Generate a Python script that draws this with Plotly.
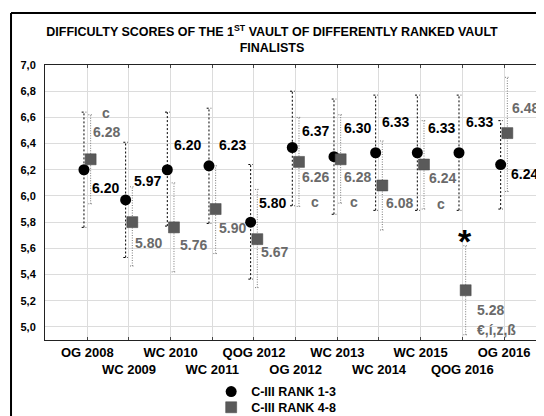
import plotly.graph_objects as go

# ---------------- data ----------------
events = ["OG 2008", "WC 2009", "WC 2010", "WC 2011", "QOG 2012", "OG 2012",
          "WC 2013", "WC 2014", "WC 2015", "QOG 2016", "OG 2016"]
rank13_mean = [6.20, 5.97, 6.20, 6.23, 5.80, 6.37, 6.30, 6.33, 6.33, 6.33, 6.24]
rank13_lo = [5.76, 5.53, 5.77, 5.79, 5.365, 5.925, 5.86, 5.89, 5.89, 5.89, 5.90]
rank13_hi = [6.64, 6.41, 6.64, 6.67, 6.24, 6.80, 6.74, 6.77, 6.77, 6.77, 6.575]
rank48_mean = [6.28, 5.80, 5.76, 5.90, 5.67, 6.26, 6.28, 6.08, 6.24, 5.28, 6.48]
rank48_lo = [5.94, 5.465, 5.42, 5.56, 5.30, 5.92, 5.945, 5.74, 5.90, 4.94, 6.034]
rank48_hi = [6.62, 6.07, 6.10, 6.23, 6.05, 6.60, 6.62, 6.42, 6.575, 5.62, 6.906]
rank48_notes = ["c", "", "", "", "", "c", "c", "", "c", "€,í,z,ß", ""]
star_event = "QOG 2016"
y_ticks = [5.0, 5.2, 5.4, 5.6, 5.8, 6.0, 6.2, 6.4, 6.6, 6.8, 7.0]
y_tick_labels = ["5,0", "5,2", "5,4", "5,6", "5,8", "6,0", "6,2", "6,4", "6,6", "6,8", "7,0"]
series_names = ["C-III RANK 1-3", "C-III RANK 4-8"]
title_text = "DIFFICULTY SCORES OF THE 1<sup>ST</sup> VAULT OF DIFFERENTLY RANKED VAULT<br>FINALISTS"

# ---------------- style ----------------
FONT = "Liberation Sans, Arial, sans-serif"
GRAY_TXT = "#6a6a6a"
SQ_FILL = "#5a5a5a"
OFF = 0.08      # horizontal offset of the two series around each category
CAP = 0.055     # half width of error-bar caps
W, H = 536, 408  # page body has an 8px margin

# label offsets (pixels; dx right, dy down)
c_dx = [2.7, 2.7, 1, 4.4, 3.3, 4.3, 4.4, 1, 5.3, 1.7, 5.3]
c_dy = [17.8, -19.3, -24.6, -20.6, -19.6, -16.6, -28.5, -30.5, -24.5, -30.5, 9.7]
s_dx = [3.4, 4, 7, 4.4, 5.3, 4.3, 4.4, 5, 6, 12.7, 6]
s_dy = [-27.1, 21, 18, 19.2, 13.1, 14.7, 17.3, 17.2, 13.7, 20.2, -25.5]
n_dx = [12.7, 0, 0, 0, 0, 13.3, 10.7, 0, 14.6, 12.7, 0]
n_dy = [-46.7, 0, 0, 0, 0, 39.7, 42.3, 0, 39.4, 40.2, 0]

idx = list(range(len(events)))
x13 = [i - OFF for i in idx]
x48 = [i + OFF for i in idx]


def errbar_segments(xs, lo, hi):
    X, Y = [], []
    for x, a, b in zip(xs, lo, hi):
        X += [x, x, None, x - CAP, x + CAP, None, x - CAP, x + CAP, None]
        Y += [a, b, None, a, a, None, b, b, None]
    return X, Y


fig = go.Figure()

ex, ey = errbar_segments(x13, rank13_lo, rank13_hi)
fig.add_trace(go.Scatter(x=ex, y=ey, mode="lines", showlegend=False, hoverinfo="skip",
                         line=dict(color="#000000", width=1, dash="2px,2px")))
ex, ey = errbar_segments(x48, rank48_lo, rank48_hi)
fig.add_trace(go.Scatter(x=ex, y=ey, mode="lines", showlegend=False, hoverinfo="skip",
                         line=dict(color="#7a7a7a", width=1, dash="1px,1.5px")))

fig.add_trace(go.Scatter(x=x13, y=rank13_mean, mode="markers", name=series_names[0],
                         legend="legend",
                         marker=dict(symbol="circle", size=11, color="#000000",
                                     line=dict(width=0))))
fig.add_trace(go.Scatter(x=x48, y=rank48_mean, mode="markers", name=series_names[1],
                         legend="legend2",
                         marker=dict(symbol="square", size=11, color=SQ_FILL,
                                     line=dict(width=0.5, color="#444444"))))
# dummy for right-hand tick axis
fig.add_trace(go.Scatter(x=[None], y=[None], yaxis="y2", showlegend=False, hoverinfo="skip"))

ann = []
for i in idx:
    ann.append(dict(x=x13[i], y=rank13_mean[i], text=f"{rank13_mean[i]:.2f}",
                    xanchor="left", yanchor="middle", xshift=c_dx[i] + 3.3, yshift=-c_dy[i],
                    showarrow=False, font=dict(family=FONT, size=14, color="#000000", weight="bold")))
    ann.append(dict(x=x48[i], y=rank48_mean[i], text=f"{rank48_mean[i]:.2f}",
                    xanchor="left", yanchor="middle", xshift=s_dx[i] - 3.3, yshift=-s_dy[i],
                    showarrow=False, font=dict(family=FONT, size=14, color=GRAY_TXT, weight="bold")))
    if rank48_notes[i]:
        ann.append(dict(x=x48[i], y=rank48_mean[i], text=rank48_notes[i],
                        xanchor="left", yanchor="middle", xshift=n_dx[i] - 3.3, yshift=-n_dy[i],
                        showarrow=False, font=dict(family=FONT, size=14, color=GRAY_TXT, weight="bold")))
si = events.index(star_event)
ann.append(dict(x=x48[si], y=rank48_hi[si], text="*", xanchor="center", yanchor="middle",
                xshift=-1, yshift=5, showarrow=False,
                font=dict(family=FONT, size=34, color="#000000", weight="bold")))

ticktext = [e if i % 2 == 0 else "<br>" + e for i, e in enumerate(events)]
legend_font = dict(family=FONT, size=12.5, color="#000000", weight="bold")

fig.update_layout(
    width=W, height=H,
    margin=dict(l=37, r=0, t=57, b=76, autoexpand=False),
    paper_bgcolor="white", plot_bgcolor="white",
    font=dict(family=FONT, color="#000000"),
    title=dict(text=title_text, x=264 / W, xref="container", xanchor="center",
               y=1 - 28 / H, yref="container", yanchor="top",
               font=dict(family=FONT, size=12.5, color="#000000", weight="bold")),
    xaxis=dict(range=[-1.015, 10.96], tickmode="array", tickvals=idx, ticktext=ticktext,
               tickangle=0, automargin=False,
               showgrid=True, gridcolor="#dcdcdc", gridwidth=1, zeroline=False,
               showline=True, linecolor="#222222", linewidth=1, mirror="ticks",
               ticks="inside", ticklen=3, tickcolor="#444444",
               tickfont=dict(family=FONT, size=13, color="#000000", weight="bold")),
    yaxis=dict(range=[4.9, 7.0], tickmode="array", tickvals=y_ticks, ticktext=y_tick_labels,
               automargin=False,
               showgrid=True, gridcolor="#dcdcdc", gridwidth=1, zeroline=False,
               showline=True, linecolor="#222222", linewidth=1, ticks="", ticklabelstandoff=6,
               tickfont=dict(family=FONT, size=11, color="#000000", weight="bold")),
    yaxis2=dict(range=[4.9, 7.0], overlaying="y", side="right", tickmode="array",
                tickvals=y_ticks, showticklabels=False, showgrid=False, zeroline=False,
                automargin=False,
                showline=False, ticks="inside", ticklen=3, tickcolor="#444444"),
    legend=dict(x=0.333, xanchor="left", y=-0.189, yanchor="middle", orientation="v",
                bgcolor="rgba(0,0,0,0)", borderwidth=0, font=legend_font),
    legend2=dict(x=0.333, xanchor="left", y=-0.246, yanchor="middle", orientation="v",
                 bgcolor="rgba(0,0,0,0)", borderwidth=0, font=legend_font),
    annotations=ann,
    shapes=[
        dict(type="line", xref="paper", yref="paper", x0=-0.0681, x1=-0.0681, y0=1.189, y1=-0.35,
             line=dict(color="#000000", width=2)),
        dict(type="line", xref="paper", yref="paper", x0=-0.0681, x1=1.05, y0=1.189, y1=1.189,
             line=dict(color="#000000", width=2)),
    ],
    showlegend=True,
)

fig.write_html("out.html")
